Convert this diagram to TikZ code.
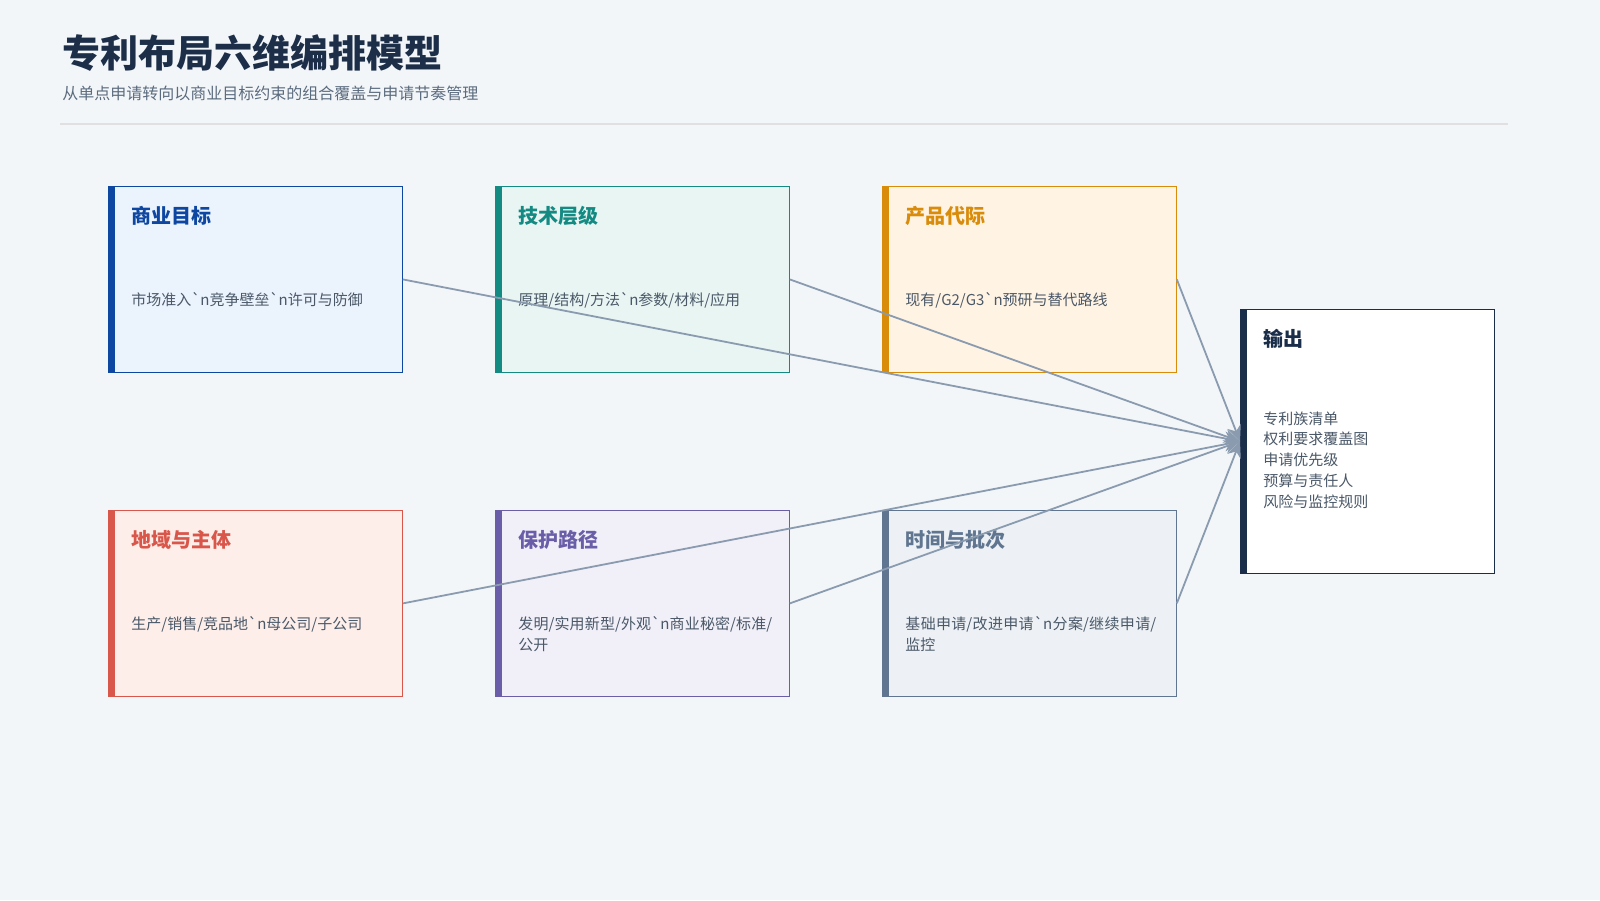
\documentclass[tikz,border=0pt]{standalone}
\usepackage{fontspec}
\newfontfamily\cjk{Noto Sans CJK SC}
\XeTeXlinebreaklocale "zh"
\XeTeXlinebreakskip=0pt plus 1pt
\usetikzlibrary{arrows.meta,positioning}
\definecolor{bgc}{HTML}{F3F6F9}
\definecolor{titc}{HTML}{1C2E48}
\definecolor{subc}{HTML}{5B6B7E}
\definecolor{txtc}{HTML}{4A5868}
\definecolor{arc}{HTML}{8A9BB0}
\definecolor{cA}{HTML}{0D47A1}\definecolor{fA}{HTML}{EBF3FC}
\definecolor{cB}{HTML}{138A82}\definecolor{fB}{HTML}{E9F5F3}
\definecolor{cC}{HTML}{D98C0A}\definecolor{fC}{HTML}{FFF3E3}
\definecolor{cD}{HTML}{D9574A}\definecolor{fD}{HTML}{FDEEEA}
\definecolor{cE}{HTML}{6B5EA8}\definecolor{fE}{HTML}{F1EFF8}
\definecolor{cF}{HTML}{5F7590}\definecolor{fF}{HTML}{EDF1F5}
\definecolor{cO}{HTML}{1A2E4A}
\newcommand{\bq}{\char96}
\tikzset{
  panel/.style={draw=c#1,fill=f#1,anchor=north west,minimum width=147pt,minimum height=93pt,inner sep=0pt},
  head/.style={anchor=west,font=\cjk\fontsize{10}{12}\selectfont\bfseries,text=#1,inner sep=0pt},
  body/.style={anchor=north west,font=\cjk\fontsize{7.5}{10.5}\selectfont,text=txtc,align=left,text width=#1,inner sep=0pt},
  link/.style={draw=arc,line width=0.9pt,-{Stealth[length=8pt,width=7pt]}}
}
\begin{document}
\begin{tikzpicture}[x=0.5pt,y=-0.5pt]
\fill[bgc] (0,0) rectangle (1600,900);
\useasboundingbox (0,0) rectangle (1600,900);
% header
\node[anchor=west,inner sep=0pt,font=\cjk\fontsize{19}{22}\selectfont\bfseries,text=titc] (title) at (62,53) {专利布局六维编排模型};
\node[anchor=west,inner sep=0pt,font=\cjk\fontsize{8}{10}\selectfont,text=subc] (sub) at (62,93) {从单点申请转向以商业目标约束的组合覆盖与申请节奏管理};
\draw[draw=black!12,line width=1pt] (60,124) -- (1508,124);
% six panels
\foreach \n/\c/\x/\y/\h/\t in {
  biz/A/108/186/商业目标/{市场准入\bq n竞争壁垒\bq n许可与防御},
  tech/B/495/186/技术层级/{原理/结构/方法\bq n参数/材料/应用},
  prod/C/882/186/产品代际/{现有/G2/G3\bq n预研与替代路线},
  geo/D/108/510/地域与主体/{生产/销售/竞品地\bq n母公司/子公司},
  prot/E/495/510/保护路径/{发明/实用新型/外观\bq n商业秘密/标准/公开},
  time/F/882/510/时间与批次/{基础申请/改进申请\bq n分案/继续申请/监控}}{
  \node[panel=\c] (\n) at (\x,\y) {};
  \fill[c\c] (\n.north west) rectangle ([xshift=3.5pt]\n.south west);
  \node[head=c\c] (\n-h) at (\x+23,\y+30) {\h};
  \node[body=128pt] (\n-b) at (\x+23,\y+106) {\t};
}
% output
\node[draw=cO,fill=white,anchor=north west,minimum width=127pt,minimum height=132pt,inner sep=0pt] (out) at (1240,309) {};
\fill[cO] (out.north west) rectangle ([xshift=3.5pt]out.south west);
\node[head=cO] (out-h) at (1263,339) {输出};
\node[anchor=north west,inner sep=0pt,font=\cjk\fontsize{7.5}{10.4}\selectfont,text=txtc,align=left] (out-b) at (1263,411) {专利族清单\\权利要求覆盖图\\申请优先级\\预算与责任人\\风险与监控规则};
% links
\foreach \n in {biz,tech,prod,geo,prot,time}
  \draw[link] (\n.east) -- (out.west);
\end{tikzpicture}
\end{document}
